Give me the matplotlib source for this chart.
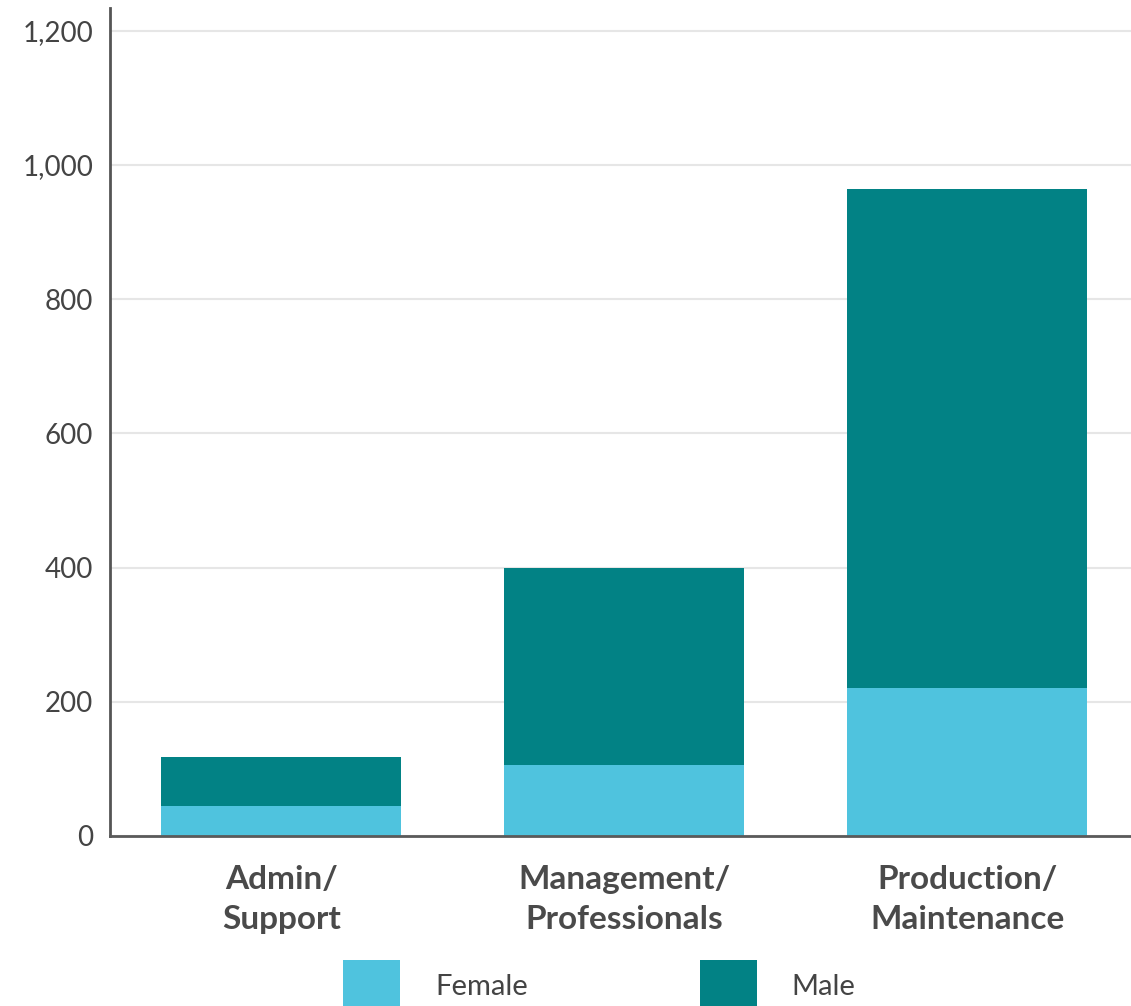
import matplotlib.pyplot as plt
import numpy as np

plt.rcParams['font.family'] = ['Lato', 'DejaVu Sans']

categories = ['Admin/\nSupport', 'Management/\nProfessionals', 'Production/\nMaintenance']
female = [45, 106, 221]
male = [72, 293, 743]
yticks = [0, 200, 400, 600, 800, 1000, 1200]

c_female = '#4fc3de'
c_male = '#028285'
text_col = '#444444'

fig = plt.figure(figsize=(11.31, 10.06), dpi=100)
ax = fig.add_axes([110 / 1131, 1 - 836 / 1006, 1 - 110 / 1131, (836 - 8) / 1006])

x = np.arange(len(categories))
ax.bar(x, female, width=0.7, color=c_female, label='Female', zorder=3)
ax.bar(x, male, width=0.7, bottom=female, color=c_male, label='Male', zorder=3)

ax.set_xlim(-0.5, 2.478)
ax.set_ylim(0, 1234)
ax.set_yticks(yticks)
ax.set_yticklabels(['{:,}'.format(v) for v in yticks])
ax.set_xticks(x)
ax.set_xticklabels(categories, fontweight='bold', fontsize=24, color='#4a4a4a',
                   linespacing=1.45)
ax.tick_params(axis='y', length=0, pad=12, labelsize=20, labelcolor=text_col)
ax.tick_params(axis='x', length=0, pad=21)

ax.grid(axis='y', color='#e6e6e6', linewidth=1.5, zorder=0)
for side in ['top', 'right']:
    ax.spines[side].set_visible(False)
ax.spines['left'].set_color('#555555')
ax.spines['left'].set_linewidth(2)
ax.spines['bottom'].set_color('#5a5a5a')
ax.spines['bottom'].set_linewidth(2)
ax.spines['bottom'].set_zorder(4)

fig.legend(loc='upper left', bbox_to_anchor=(343 / 1131, 1 - 960 / 1006), ncol=2,
           frameon=False, fontsize=21, labelcolor=text_col, borderpad=0,
           borderaxespad=0, handlelength=1.95, handleheight=2.4,
           handletextpad=1.2, columnspacing=5.9)

fig.savefig('out.png', dpi=100)
